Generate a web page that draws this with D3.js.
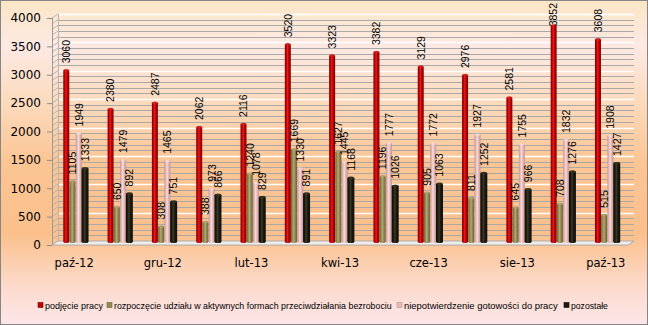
<!DOCTYPE html>
<html><head><meta charset="utf-8">
<script src="https://cdn.jsdelivr.net/npm/d3@7"></script>
<style>body{margin:0;padding:0;background:#fff}svg{display:block}</style>
</head><body>
<svg id="c" width="648" height="325"></svg>
<script>
const months = ["paź-12","lis-12","gru-12","sty-13","lut-13","mar-13","kwi-13","maj-13","cze-13","lip-13","sie-13","wrz-13","paź-13"];
const shownMonths = ["paź-12","gru-12","lut-13","kwi-13","cze-13","sie-13","paź-13"];
const seriesNames = ["podjęcie pracy","rozpoczęcie udziału w aktywnych formach przeciwdziałania bezrobociu","niepotwierdzenie gotowości do pracy","pozostałe"];
const podjecie = [3060,2380,2487,2062,2116,3520,3323,3382,3129,2976,2581,3852,3608];
const rozpoczecie = [1105,650,308,388,1240,1669,1627,1196,905,811,645,708,515];
const niepotwierdzenie = [1949,1479,1465,973,1078,1330,1445,1777,1772,1927,1755,1832,1908];
const pozostale = [1333,892,751,866,829,891,1168,1026,1063,1252,966,1276,1427];
const yTicks = [0,500,1000,1500,2000,2500,3000,3500,4000];

const seriesValues = [podjecie, rozpoczecie, niepotwierdzenie, pozostale];
const colors = [
  {base:"#c00000", dark:"#7e0000", light:"#e02020"},
  {base:"#948a54", dark:"#6a6238", light:"#b3aa72"},
  {base:"#e6b9b8", dark:"#c39594", light:"#f7dede"},
  {base:"#1d1b10", dark:"#0c0b06", light:"#3b3926"}
];

const svg = d3.select("#c");
const defs = svg.append("defs");

// background
const bg = defs.append("linearGradient").attr("id","bg").attr("x1",0).attr("y1",0).attr("x2",0).attr("y2",1);
[["0%","#fbe6c6"],["14%","#fde9e3"],["30%","#fcdcc0"],["50%","#fbc594"],["72%","#fbc08c"],["88%","#fcdacb"],["100%","#fde6ea"]]
  .forEach(s=>bg.append("stop").attr("offset",s[0]).attr("stop-color",s[1]));
svg.append("rect").attr("x",0.5).attr("y",0.5).attr("width",647).attr("height",324)
  .attr("fill","url(#bg)").attr("stroke","#868686").attr("stroke-width",1);

// cylinder gradients
colors.forEach((c,i)=>{
  const g = defs.append("linearGradient").attr("id","cyl"+i).attr("x1",0).attr("y1",0).attr("x2",1).attr("y2",0);
  [["0%",c.dark],["25%",c.base],["45%",c.light],["65%",c.base],["100%",c.dark]]
    .forEach(s=>g.append("stop").attr("offset",s[0]).attr("stop-color",s[1]));
});

const x0 = 52, x1 = 628, dx = 6, dy = 4;
const y = d3.scaleLinear().domain([0,4000]).range([245,18]);
const xg = d3.scaleBand().domain(months).range([x0,x1]).paddingInner(0).paddingOuter(0);
const xs = d3.scaleBand().domain(d3.range(4)).range([-11,14]);

// back wall gridlines (every 100)
const minor = d3.range(100,4001,100);
const grid = svg.append("g");
minor.forEach(v=>{
  const yy = Math.round(y(v)-dy)+0.5;
  const major = v%500===0;
  grid.append("line").attr("x1",x0+dx).attr("x2",x1+dx).attr("y1",yy).attr("y2",yy)
    .attr("stroke", major ? "#ffffff" : "#a9a9a9").attr("stroke-width", major?1.4:1);
  grid.append("line").attr("x1",x0).attr("y1",y(v)).attr("x2",x0+dx).attr("y2",y(v)-dy)
    .attr("stroke","#a9a9a9").attr("stroke-width",0.8);
});
grid.append("line").attr("x1",x0+0.5).attr("x2",x0+0.5).attr("y1",y(0)).attr("y2",y(4000)).attr("stroke","#9a9a9a");
grid.append("line").attr("x1",x0+dx+0.5).attr("x2",x0+dx+0.5).attr("y1",y(0)-dy).attr("y2",y(4000)-dy).attr("stroke","#b5b5b5");
svg.append("path")
  .attr("d",`M${x0},${y(0)} L${x1},${y(0)} L${x1+dx},${y(0)-dy} L${x0+dx},${y(0)-dy} Z`)
  .attr("fill","#eeeeee").attr("stroke","#a0a0a0").attr("stroke-width",0.8);

// y axis
const yAxis = d3.axisLeft(y).tickValues(yTicks).tickSize(5).tickPadding(6).tickFormat(d3.format("d"));
const ya = svg.append("g").attr("transform",`translate(${x0},0)`).call(yAxis);
ya.select(".domain").remove();
ya.selectAll(".tick line").attr("stroke","#8c8c8c");
ya.selectAll("text").attr("font-family","DejaVu Sans").attr("font-size","12px").attr("fill","#000");

// x axis labels
const xa = d3.axisBottom(xg).tickValues(shownMonths).tickSize(0).tickPadding(14);
const xag = svg.append("g").attr("transform",`translate(0,${y(0)})`).call(xa);
xag.select(".domain").remove();
xag.selectAll("text").attr("font-family","DejaVu Sans").attr("font-size","11.5px").attr("fill","#000");

// bars
const bw = 6;
const barsG = svg.append("g");
seriesValues.forEach((vals,si)=>{
  months.forEach((m,mi)=>{
    const cx = xg(m) + xg.bandwidth()/2 + xs(si) + xs.bandwidth()/2;
    const top = y(vals[mi]) - 2, bot = y(0) - 2;
    const w = si===3 ? bw+1 : bw;
    barsG.append("rect").attr("x",cx-w/2).attr("y",top).attr("width",w).attr("height",bot-top)
      .attr("fill",`url(#cyl${si})`).attr("rx",2.5).attr("ry",1.5);
    barsG.append("ellipse").attr("cx",cx).attr("cy",top+1.2).attr("rx",w/2-0.3).attr("ry",1.3)
      .attr("fill",colors[si].light).attr("opacity",0.6);
  });
});
// labels (kept inside the chart area at the top)
const lbl = svg.append("g");
seriesValues.forEach((vals,si)=>{
  months.forEach((m,mi)=>{
    const cx = xg(m) + xg.bandwidth()/2 + xs(si) + xs.bandwidth()/2;
    const top = y(vals[mi]) - 2;
    const t = lbl.append("text")
      .attr("font-family","Liberation Sans").attr("font-size","10.5px").attr("fill","#000")
      .text(vals[mi]);
    const len = t.node().getComputedTextLength();
    const start = Math.max(top-6, len + 3);
    t.attr("transform",`translate(${cx+3.8},${start}) rotate(-90)`);
  });
});

// legend: font size fitted so each label spans its width in the reference
const legX = [38,107,397,564];
const legW = [58,278,154,37];
const lg = svg.append("g");
seriesNames.forEach((n,i)=>{
  lg.append("rect").attr("x",legX[i]).attr("y",302.5).attr("width",5).attr("height",5)
    .attr("fill",colors[i].base).attr("stroke",colors[i].dark).attr("stroke-width",0.6);
  const t = lg.append("text").attr("x",legX[i]+7).attr("y",308.5)
    .attr("font-family","Liberation Sans").attr("font-size","10px").attr("fill","#000").text(n);
  const len = t.node().getComputedTextLength();
  t.attr("font-size", (10*legW[i]/len).toFixed(2)+"px");
});
</script>
</body></html>
